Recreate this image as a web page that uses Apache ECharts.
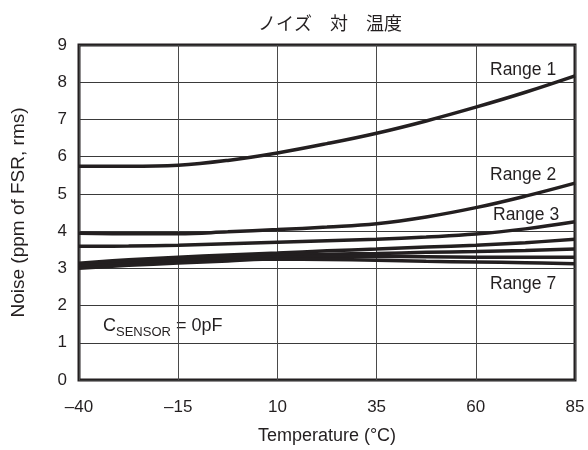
<!DOCTYPE html>
<html>
<head>
<meta charset="utf-8">
<script src="https://cdn.jsdelivr.net/npm/echarts@6/dist/echarts.min.js"></script>
<style>
  html, body { margin: 0; padding: 0; background: #fff; }
  #chart { width: 588px; height: 450px; }
</style>
</head>
<body>
<div id="chart"></div>
<script>
// Temperature sample points (°C)
const temps = [-40, -27.5, -15, -2.5, 10, 22.5, 35, 47.5, 60, 72.5, 85];

// RMS noise (ppm of FSR) for each range setting
const range1 = [5.74, 5.74, 5.77, 5.90, 6.10, 6.35, 6.63, 6.96, 7.33, 7.73, 8.17];
const range2 = [3.94, 3.93, 3.93, 3.98, 4.04, 4.11, 4.20, 4.38, 4.63, 4.94, 5.29];
const range3 = [3.59, 3.60, 3.62, 3.66, 3.70, 3.74, 3.78, 3.84, 3.92, 4.06, 4.25];
const range4 = [3.14, 3.23, 3.30, 3.36, 3.41, 3.47, 3.52, 3.57, 3.62, 3.69, 3.78];
const range5 = [3.09, 3.18, 3.25, 3.31, 3.35, 3.38, 3.40, 3.43, 3.45, 3.48, 3.52];
const range6 = [3.05, 3.13, 3.20, 3.26, 3.30, 3.32, 3.32, 3.31, 3.30, 3.30, 3.30];
const range7 = [3.00, 3.08, 3.14, 3.20, 3.25, 3.24, 3.22, 3.19, 3.17, 3.15, 3.12];

const seriesNames = ['Range 1', 'Range 2', 'Range 3', 'Range 4', 'Range 5', 'Range 6', 'Range 7'];
const seriesValues = [range1, range2, range3, range4, range5, range6, range7];

// Tick labels for the temperature axis
const xTickLabels = { '-40': '\u201340', '-15': '\u201315', '10': '10', '35': '35', '60': '60', '85': '85' };

const FONT = '"Liberation Sans", Arial, Helvetica, sans-serif';
const INK = '#231f20';

const chart = echarts.init(document.getElementById('chart'), null, { renderer: 'canvas' });

const series = seriesNames.map((name, i) => ({
  name: name,
  type: 'line',
  smooth: 0.4,
  symbol: 'none',
  silent: true,
  lineStyle: { color: INK, width: 3.5 },
  data: temps.map((t, j) => [t, seriesValues[i][j]]),
  z: 3
}));

const option = {
  animation: false,
  backgroundColor: '#ffffff',
  title: {
    text: 'ノイズ\u3000対\u3000温度',
    left: 325,
    top: 9,
    textAlign: 'center',
    textStyle: {
      fontFamily: '"Noto Sans CJK JP", sans-serif',
      fontSize: 18,
      fontWeight: 'normal',
      color: INK
    }
  },
  grid: {
    left: 79,
    right: 13,
    top: 45,
    bottom: 69,
    show: true,
    borderColor: INK,
    borderWidth: 3,
    backgroundColor: 'transparent'
  },
  xAxis: {
    type: 'value',
    min: -40,
    max: 85,
    interval: 25,
    name: 'Temperature (\u00b0C)',
    nameLocation: 'middle',
    nameGap: 47,
    nameTextStyle: { fontFamily: FONT, fontSize: 18, color: INK },
    axisLine: { show: false },
    axisTick: { show: false },
    axisLabel: {
      margin: 19,
      fontFamily: FONT,
      fontSize: 17,
      color: INK,
      formatter: v => xTickLabels[String(v)] !== undefined ? xTickLabels[String(v)] : ''
    },
    splitLine: { show: true, lineStyle: { color: '#4a4a4a', width: 1 } }
  },
  yAxis: {
    type: 'value',
    min: 0,
    max: 9,
    interval: 1,
    name: 'Noise (ppm of FSR, rms)',
    nameLocation: 'middle',
    nameGap: 51,
    nameTextStyle: { fontFamily: FONT, fontSize: 19, color: INK },
    axisLine: { show: false },
    axisTick: { show: false },
    axisLabel: { margin: 12, fontFamily: FONT, fontSize: 17, color: INK },
    splitLine: { show: true, lineStyle: { color: '#3a3a3a', width: 1 } }
  },
  graphic: [
    { type: 'text', left: 490, top: 61, style: { text: 'Range 1', fontFamily: FONT, fontSize: 17.5, fill: INK } },
    { type: 'text', left: 490, top: 166, style: { text: 'Range 2', fontFamily: FONT, fontSize: 17.5, fill: INK } },
    { type: 'text', left: 493, top: 206, style: { text: 'Range 3', fontFamily: FONT, fontSize: 17.5, fill: INK } },
    { type: 'text', left: 490, top: 275, style: { text: 'Range 7', fontFamily: FONT, fontSize: 17.5, fill: INK } },
    {
      type: 'text', left: 103, top: 317,
      style: {
        text: '{c|C}{s|SENSOR}{c| = 0pF}',
        rich: {
          c: { fontFamily: FONT, fontSize: 18, fill: INK, verticalAlign: 'bottom', lineHeight: 20 },
          s: { fontFamily: FONT, fontSize: 13, fill: INK, verticalAlign: 'bottom', lineHeight: 14, padding: [0, 0, -4, 0] }
        }
      }
    }
  ],
  series: series
};

chart.setOption(option);
</script>
</body>
</html>
